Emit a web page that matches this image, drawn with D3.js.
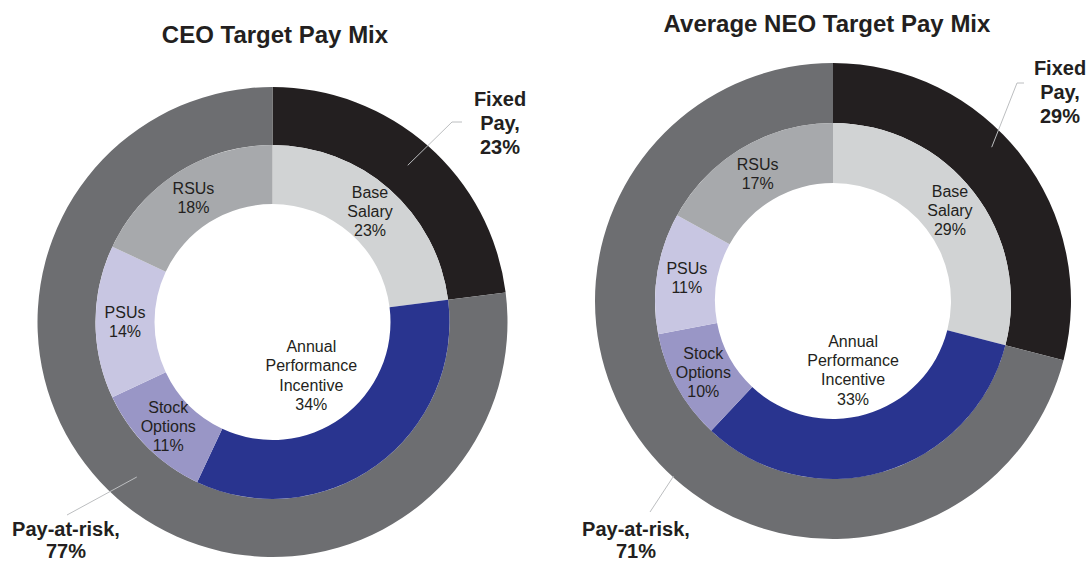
<!DOCTYPE html>
<html>
<head>
<meta charset="utf-8">
<script src="https://cdn.jsdelivr.net/npm/d3@7"></script>
<style>
  body { margin: 0; background: #fff; }
  svg { display: block; font-family: "Liberation Sans", Arial, sans-serif; }
  .title { font-size: 24px; font-weight: bold; fill: #231f20; text-anchor: middle; }
  .slice-label { font-size: 16px; fill: #231f20; text-anchor: middle; }
  .callout { font-size: 20px; font-weight: bold; fill: #231f20; text-anchor: middle; }
  .leader { fill: none; stroke: #bcbec0; stroke-width: 1; }
</style>
</head>
<body>
<div id="wrapper"></div>
<script>
  // 1. Data

  const chartTitles = ["CEO Target Pay Mix", "Average NEO Target Pay Mix"]

  const innerCategories = ["Base Salary", "Annual Performance Incentive", "Stock Options", "PSUs", "RSUs"]
  const innerLabelLines = [["Base", "Salary"], ["Annual", "Performance", "Incentive"], ["Stock", "Options"], ["PSUs"], ["RSUs"]]
  const ceoInner = [23, 34, 11, 14, 18]
  const neoInner = [29, 33, 10, 11, 17]

  const outerCategories = ["Fixed Pay", "Pay-at-risk"]
  const outerLabelLines = [["Fixed", "Pay,"], ["Pay-at-risk,"]]
  const ceoOuter = [23, 77]
  const neoOuter = [29, 71]

  const innerColors = ["#d1d3d4", "#29348f", "#9996c6", "#c8c6e2", "#a7a9ac"]
  const outerColors = ["#231f20", "#6d6e71"]

  // 2. Dimensions / layout

  const dimensions = { width: 1087, height: 562 }

  const charts = [
    {
      title: chartTitles[0], inner: ceoInner, outer: ceoOuter,
      cx: 272.5, cy: 322, rHole: 118, rMid: 177, rOuter: 235,
      titleX: 275, titleY: 43, apiRadius: 66,
      callouts: [
        { x: 500, y: 106, gap: 24, start: [40.8, 207], rest: [[452, 122], [462, 122]] },
        { x: 66, y: 536, gap: 22, start: [221.2, 206], rest: [[67, 515]] },
      ],
    },
    {
      title: chartTitles[1], inner: neoInner, outer: neoOuter,
      cx: 833, cy: 301, rHole: 118, rMid: 178, rOuter: 238,
      titleX: 827, titleY: 32, apiRadius: 72,
      callouts: [
        { x: 1060, y: 75, gap: 24, start: [45.9, 221], rest: [[1017, 83], [1024, 83]] },
        { x: 636, y: 536, gap: 22, start: [222.3, 237], rest: [[650, 512]] },
      ],
    },
  ]

  // 3. Draw canvas

  const wrapper = d3.select("#wrapper")
    .append("svg")
      .attr("width", dimensions.width)
      .attr("height", dimensions.height)

  const pie = d3.pie().sort(null).value(d => d)

  charts.forEach(chart => {
    wrapper.append("text")
      .attr("class", "title")
      .attr("x", chart.titleX)
      .attr("y", chart.titleY)
      .text(chart.title)

    const bounds = wrapper.append("g")
      .attr("transform", `translate(${chart.cx},${chart.cy})`)

    const innerArc = d3.arc().innerRadius(chart.rHole).outerRadius(chart.rMid)
    const outerArc = d3.arc().innerRadius(chart.rMid).outerRadius(chart.rOuter)
    const apiArc = d3.arc().innerRadius(chart.apiRadius).outerRadius(chart.apiRadius)

    const innerSlices = pie(chart.inner)
    const outerSlices = pie(chart.outer)

    bounds.selectAll(".outer")
      .data(outerSlices)
      .join("path")
        .attr("class", "outer")
        .attr("d", outerArc)
        .attr("fill", (d, i) => outerColors[i])

    bounds.selectAll(".inner")
      .data(innerSlices)
      .join("path")
        .attr("class", "inner")
        .attr("d", innerArc)
        .attr("fill", (d, i) => innerColors[i])

    // slice labels
    const lineHeight = 19.3
    innerSlices.forEach((d, i) => {
      const lines = [...innerLabelLines[i], `${d.data}%`]
      const [x, y] = i === 1 ? apiArc.centroid(d) : innerArc.centroid(d)
      const top = y - (lines.length - 1) * lineHeight / 2 + 5.7
      const label = bounds.append("text")
        .attr("class", "slice-label")
      lines.forEach((line, j) => {
        label.append("tspan")
          .attr("x", x)
          .attr("y", top + j * lineHeight)
          .text(line)
      })
    })

    // callouts for the outer ring
    outerSlices.forEach((d, i) => {
      const c = chart.callouts[i]
      const a = c.start[0] * Math.PI / 180
      const points = [
        [chart.cx + c.start[1] * Math.sin(a), chart.cy - c.start[1] * Math.cos(a)],
        ...c.rest,
      ]
      wrapper.append("path")
        .attr("class", "leader")
        .attr("d", d3.line()(points))

      const lines = [...outerLabelLines[i], `${d.data}%`]
      const label = wrapper.append("text").attr("class", "callout")
      lines.forEach((line, j) => {
        label.append("tspan")
          .attr("x", c.x)
          .attr("y", c.y + j * c.gap)
          .text(line)
      })
    })
  })
</script>
</body>
</html>
